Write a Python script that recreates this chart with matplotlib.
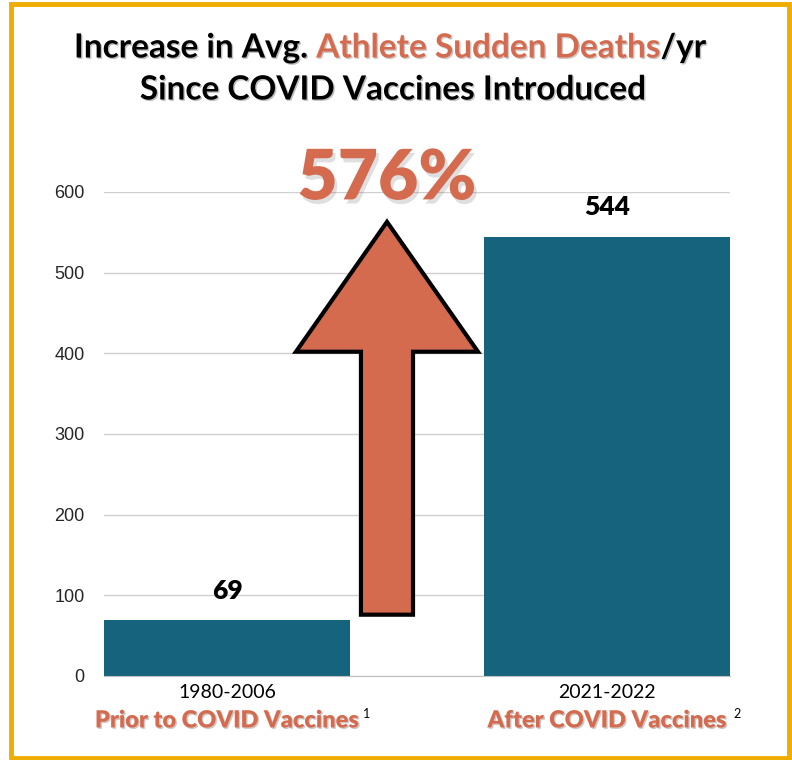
import matplotlib.pyplot as plt
import matplotlib.patheffects as pe
from matplotlib.patches import Polygon, Rectangle

# datos del gráfico
periodos = ["1980-2006", "2021-2022"]
etiquetas = ["Prior to COVID Vaccines", "After COVID Vaccines"]
notas = ["1", "2"]
muertes = [69, 544]
aumento = "576%"
yticks = [0, 100, 200, 300, 400, 500, 600]

# flecha (en coordenadas de datos): centro x, base, base de la punta, punta
flecha_x = 0.421
flecha_base = 76
flecha_cabeza = 402
flecha_punta = 563
flecha_ancho = 0.137
cabeza_ancho = 0.479

azul = "#16637D"
naranja = "#D46B4F"
oro = "#EEAD00"

fig = plt.figure(figsize=(7.92, 7.6), dpi=100)
ax = fig.add_axes([104 / 792, 1 - 676 / 760, 626 / 792, 484 / 760])

x = list(range(len(muertes)))
ax.bar(x, muertes, width=0.647, color=azul, zorder=3)
ax.set_xlim(-0.3237, 1.3237)
ax.set_ylim(0, 600)
ax.set_yticks(yticks)
ax.set_yticklabels([str(t) for t in yticks], fontsize=13, color="#262626",
                   family="Liberation Sans")
ax.tick_params(axis="y", length=0, pad=14)
ax.tick_params(axis="x", length=0)
ax.set_xticks([])
ax.grid(axis="y", color="#D0D0D0", linewidth=1, zorder=0)
for s in ["top", "right", "left"]:
    ax.spines[s].set_visible(False)
ax.spines["bottom"].set_color("#BFBFBF")
ax.spines["bottom"].set_zorder(4)

# valores sobre las barras
for xi, v in zip(x, muertes):
    ax.text(xi, v + 22, str(v), ha="center", va="bottom", fontsize=19,
            fontweight="heavy", family="Lato", color="black", zorder=5)

# etiquetas de categoría (desplazamientos en puntos)
for xi, p, e, n in zip(x, periodos, etiquetas, notas):
    ax.annotate(p, xy=(xi, 0), xytext=(0, -12), textcoords="offset points",
                ha="center", va="center", fontsize=14, family="Lato",
                color="black", annotation_clip=False)
    ax.annotate(e, xy=(xi, 0), xytext=(0, -32), textcoords="offset points",
                ha="center", va="center", fontsize=17, fontweight="heavy",
                family="Lato", color=naranja, annotation_clip=False,
                path_effects=[pe.SimplePatchShadow(offset=(1, -1), alpha=0.25),
                              pe.Normal()])
    ax.annotate(n, xy=(xi, 0), xytext=(98 if xi == 0 else 91, -27),
                textcoords="offset points", ha="left", va="center",
                fontsize=9, family="Lato", color="black",
                annotation_clip=False)

# flecha grande
hx = flecha_ancho / 2
cx = cabeza_ancho / 2
pts = [(flecha_x - hx, flecha_base), (flecha_x + hx, flecha_base),
       (flecha_x + hx, flecha_cabeza), (flecha_x + cx, flecha_cabeza),
       (flecha_x, flecha_punta), (flecha_x - cx, flecha_cabeza),
       (flecha_x - hx, flecha_cabeza)]
ax.add_patch(Polygon(pts, closed=True, facecolor=naranja, edgecolor="black",
                     linewidth=3, joinstyle="miter", zorder=6, clip_on=False))

# porcentaje
ax.text(flecha_x, 615, aumento, ha="center", va="center", fontsize=50,
        fontweight="heavy", family="Lato", color=naranja, zorder=7,
        path_effects=[pe.SimplePatchShadow(offset=(2, -3), alpha=0.25,
                                           shadow_rgbFace="gray"),
                      pe.Normal()])

# título
sombra = [pe.SimplePatchShadow(offset=(1, -1), alpha=0.25), pe.Normal()]
fig.canvas.draw()
r = fig.canvas.get_renderer()
partes = [("Increase in Avg. ", "black"), ("Athlete Sudden Deaths", naranja),
          ("/yr", "black")]
anchos = []
for txt, c in partes:
    tt = fig.text(0, 0, txt, fontsize=24, fontweight="bold", family="Lato")
    anchos.append(tt.get_window_extent(r).width)
    tt.remove()
x0 = (792 - sum(anchos)) / 2 - 6
for (txt, c), w in zip(partes, anchos):
    fig.text(x0 / 792, 1 - 48 / 760, txt, ha="left", va="center", fontsize=24,
             fontweight="bold", family="Lato", color=c, path_effects=sombra)
    x0 += w
fig.text(393 / 792, 1 - 90 / 760, "Since COVID Vaccines Introduced", ha="center",
         va="center", fontsize=24, fontweight="bold", family="Lato",
         color="black", path_effects=sombra)

# marco dorado
fig.patches.append(Rectangle((11 / 792, 2 / 760), 778 / 792, 754 / 760,
                             transform=fig.transFigure, fill=False,
                             edgecolor=oro, linewidth=3.5, zorder=10))

plt.savefig("out.png", dpi=100)
